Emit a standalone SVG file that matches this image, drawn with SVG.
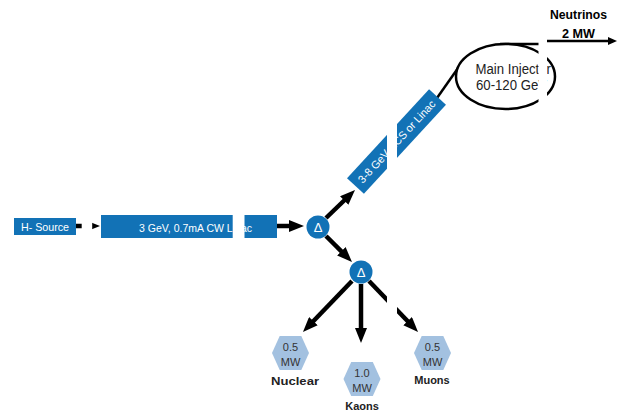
<svg xmlns="http://www.w3.org/2000/svg" width="624" height="415" viewBox="0 0 624 415">
<style>
.box{fill:#1272b6}
.wt{fill:#ffffff;font-family:"Liberation Sans",Arial,sans-serif}
.hex{fill:#a3c1e0}
.ht{fill:#333333;font-family:"Liberation Sans",Arial,sans-serif;font-size:11px;text-anchor:middle}
.lb{fill:#222222;font-family:"Liberation Sans",Arial,sans-serif;font-size:11px;font-weight:bold;text-anchor:middle}
.arr{stroke:#000;stroke-width:4.5;fill:none;marker-end:url(#ah)}
.thin{stroke:#000;stroke-width:2.5;fill:none}
.mask{fill:#ffffff}
</style>
<defs>
<marker id="ah" markerUnits="userSpaceOnUse" markerWidth="15" markerHeight="12" refX="5" refY="6" orient="auto"><path d="M0,0 L15,6 L0,12 z" fill="#000"/></marker>
<marker id="ahs" markerUnits="userSpaceOnUse" markerWidth="9" markerHeight="8" refX="5" refY="4" orient="auto"><path d="M0,0 L9,4 L0,8 z" fill="#000"/></marker>
</defs>

<g id="connectors">
<line class="arr" x1="76" y1="226" x2="90" y2="226"/>
<line class="arr" x1="277" y1="226" x2="294" y2="226"/>
<line class="arr" x1="326" y1="218" x2="347.8" y2="197"/>
<line class="arr" x1="326" y1="236" x2="344.9" y2="254.9"/>
<line class="arr" x1="352" y1="281" x2="309.9" y2="324.8"/>
<line class="arr" x1="361" y1="284" x2="361" y2="333"/>
<line class="arr" x1="369" y1="281" x2="411.1" y2="324.8"/>
<path class="thin" d="M437,98 L463,61"/>
<path class="thin" d="M500,44 L543,44 L545,41"/>
<path class="thin" d="M545,41 L613,41" marker-end="url(#ahs)"/>
</g>

<g id="h-source">
<rect class="box" x="14" y="218" width="62" height="17"/>
<text class="wt" x="45" y="231" font-size="10.7" text-anchor="middle">H- Source</text>
</g>

<g id="cw-linac">
<rect class="box" x="101" y="215" width="176" height="23"/>
<text class="wt" x="195.5" y="231.5" font-size="10.7" text-anchor="middle" textLength="113" lengthAdjust="spacingAndGlyphs">3 GeV, 0.7mA CW Linac</text>
</g>

<g id="split1">
<circle fill="#1272b6" cx="318" cy="227" r="11.5"/>
<text class="wt" x="318" y="231.5" font-size="13" text-anchor="middle">Δ</text>
</g>

<g id="split2">
<circle fill="#1272b6" cx="361" cy="272" r="11.5"/>
<text class="wt" x="361" y="276.5" font-size="13" text-anchor="middle">Δ</text>
</g>

<g id="rcs" transform="translate(396.5,141.5) rotate(-47.3)">
<rect class="box" x="-60.5" y="-11.5" width="121" height="23"/>
<text class="wt" x="0" y="4" font-size="11" text-anchor="middle" textLength="108" lengthAdjust="spacingAndGlyphs">3-8 GeV RCS or Linac</text>
</g>

<g id="main-injector">
<ellipse cx="505.5" cy="76.5" rx="49.5" ry="32.5" fill="#ffffff" stroke="#000" stroke-width="2.5"/>
<text x="475.5" y="74" font-family="Liberation Sans, Arial, sans-serif" font-size="14" fill="#222" textLength="75.5" lengthAdjust="spacingAndGlyphs">Main Injector</text>
<text x="476" y="90" font-family="Liberation Sans, Arial, sans-serif" font-size="14" fill="#222" textLength="71" lengthAdjust="spacingAndGlyphs">60-120 GeV</text>
</g>

<g id="neutrinos">
<text x="578.5" y="19" font-family="Liberation Sans, Arial, sans-serif" font-size="12" font-weight="bold" text-anchor="middle" fill="#000" textLength="57" lengthAdjust="spacingAndGlyphs">Neutrinos</text>
<text x="578.5" y="38" font-family="Liberation Sans, Arial, sans-serif" font-size="12" font-weight="bold" text-anchor="middle" fill="#000" textLength="33" lengthAdjust="spacingAndGlyphs">2 MW</text>
</g>

<g id="nuclear">
<polygon class="hex" points="272,353 279.7,336 301.3,336 309,353 301.3,370 279.7,370"/>
<text class="ht" x="290.5" y="350.5">0.5</text>
<text class="ht" x="290.5" y="366">MW</text>
<text class="lb" x="295" y="385" textLength="48" lengthAdjust="spacingAndGlyphs">Nuclear</text>
</g>

<g id="kaons">
<polygon class="hex" points="343.5,379 351.2,362 372.8,362 380.5,379 372.8,396 351.2,396"/>
<text class="ht" x="362" y="377">1.0</text>
<text class="ht" x="362" y="392">MW</text>
<text class="lb" x="362" y="410">Kaons</text>
</g>

<g id="muons">
<polygon class="hex" points="414,353 421.7,336 443.3,336 451,353 443.3,370 421.7,370"/>
<text class="ht" x="432.5" y="350.5">0.5</text>
<text class="ht" x="432.5" y="366">MW</text>
<text class="lb" x="432" y="384">Muons</text>
</g>

<g id="occlusions">
<rect class="mask" x="81.7" y="212" width="10.5" height="30"/>
<rect class="mask" x="232.7" y="210" width="11.8" height="35"/>
<rect class="mask" x="387" y="100" width="10" height="220"/>
<rect class="mask" x="538.5" y="30" width="8.5" height="85"/>
</g>
</svg>
